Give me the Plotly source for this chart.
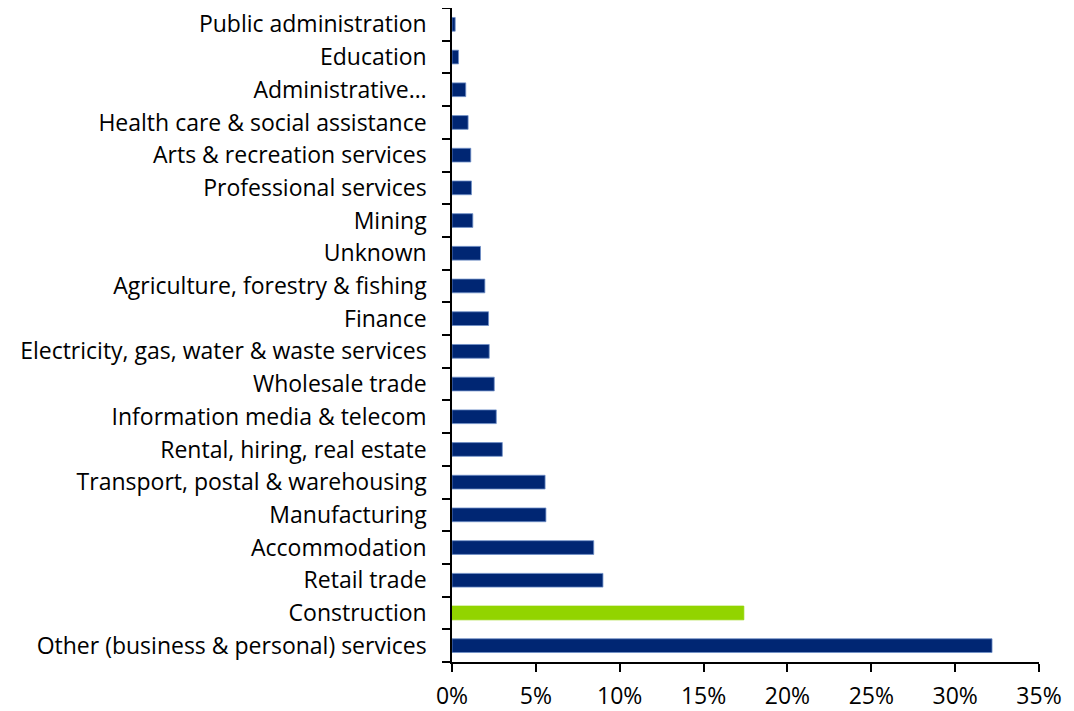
import plotly.graph_objects as go

categories = [
    "Other (business & personal) services",
    "Construction",
    "Retail trade",
    "Accommodation",
    "Manufacturing",
    "Transport, postal & warehousing",
    "Rental, hiring, real estate",
    "Information media & telecom",
    "Wholesale trade",
    "Electricity, gas, water & waste services",
    "Finance",
    "Agriculture, forestry & fishing",
    "Unknown",
    "Mining",
    "Professional services",
    "Arts & recreation services",
    "Health care & social assistance",
    "Administrative…",
    "Education",
    "Public administration",
]
values = [32.2, 17.4, 9.0, 8.45, 5.6, 5.55, 3.0, 2.64, 2.52, 2.22, 2.18, 1.96,
          1.70, 1.24, 1.16, 1.12, 0.96, 0.82, 0.39, 0.19]
highlight = "Construction"

x_ticks = [0, 5, 10, 15, 20, 25, 30, 35]
x_tick_labels = ["0%", "5%", "10%", "15%", "20%", "25%", "30%", "35%"]

NAVY = "#002673"
GREEN = "#92D400"
colors = [GREEN if c == highlight else NAVY for c in categories]
line_colors = [GREEN if c == highlight else "#6f8fc8" for c in categories]

fig = go.Figure(go.Bar(
    x=values, y=categories, orientation="h",
    marker=dict(color=colors, line=dict(color=line_colors, width=0.8)),
    hoverinfo="skip",
))

FS = 23
font_family = "Open Sans, Carlito, Calibri, sans-serif"
fig.update_layout(
    width=1058, height=703,
    margin=dict(l=444, r=27, t=0, b=49),
    plot_bgcolor="white", paper_bgcolor="white",
    bargap=0.58,
    showlegend=False,
    font=dict(family=font_family, size=FS, color="#000000"),
)
fig.update_xaxes(
    range=[0, 35], tickvals=x_ticks, ticktext=x_tick_labels,
    showgrid=False, zeroline=False, automargin=False,
    showline=True, linecolor="#000000", linewidth=1.5,
    ticks="outside", ticklen=8, tickwidth=1.5, tickcolor="#000000",
    ticklabelstandoff=5,
    tickfont=dict(size=FS),
)
fig.update_yaxes(
    type="category", categoryorder="array", categoryarray=categories,
    showgrid=False, zeroline=False, automargin=False,
    showline=True, linecolor="#000000", linewidth=1.5,
    ticks="outside", ticklen=8, tickwidth=1.5, tickcolor="#000000",
    tickson="boundaries", ticklabelstandoff=19,
    tickfont=dict(size=FS),
)

fig.write_html("out.html")
